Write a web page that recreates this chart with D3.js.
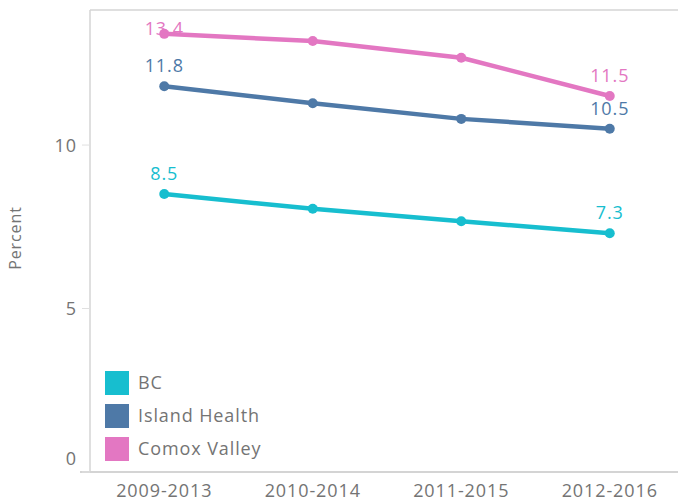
<!DOCTYPE html>
<html><head><meta charset="utf-8">
<script src="https://cdn.jsdelivr.net/npm/d3@7"></script>
<style>body{margin:0;background:#fff;}text{font-family:"Open Sans",sans-serif;letter-spacing:0.9px;}</style>
</head><body>
<svg id="c" width="678" height="503"></svg>
<script>
const periods = ["2009-2013","2010-2014","2011-2015","2012-2016"];
const seriesNames = ["BC","Island Health","Comox Valley"];
const bcValues = [8.5, 8.05, 7.67, 7.3];
const islandValues = [11.8, 11.28, 10.8, 10.5];
const comoxValues = [13.4, 13.18, 12.67, 11.5];
const yTicks = [0, 5, 10];
const colors = ["#17becf", "#4e79a7", "#e377c2"];
const series = [bcValues, islandValues, comoxValues];

const svg = d3.select("#c");
const L = 90, R = 684, T = 10, B = 472;
const x = d3.scaleBand().domain(periods).range([L, R]);
const y = d3.scaleLinear().domain([0, 14.13]).range([B, T]);
const cx = p => x(p) + x.bandwidth()/2;
const grey = "#747474";

// frame
svg.append("line").attr("x1",L).attr("x2",678).attr("y1",T).attr("y2",T).attr("stroke","#d4d4d4").attr("stroke-width",1.5);
svg.append("line").attr("x1",L).attr("x2",L).attr("y1",T).attr("y2",B).attr("stroke","#d4d4d4").attr("stroke-width",1.5);
svg.append("line").attr("x1",L-10).attr("x2",678).attr("y1",B).attr("y2",B).attr("stroke","#d4d4d4").attr("stroke-width",2);

// y ticks
yTicks.forEach(t => {
  svg.append("line").attr("x1",L-8).attr("x2",L).attr("y1",y(t)).attr("y2",y(t)).attr("stroke","#e0e0e0").attr("stroke-width",1);
  const ly = t === 0 ? y(t) - 12 : y(t) + 2;
  svg.append("text").attr("x",L-13).attr("y",ly).attr("text-anchor","end").attr("dominant-baseline","middle")
    .attr("font-size",18).attr("fill",grey).text(t);
});
svg.append("text").attr("transform","translate(17,238) rotate(-90)").attr("text-anchor","middle")
  .attr("dominant-baseline","middle").attr("font-size",16).attr("fill",grey).text("Percent");

// x labels
periods.forEach(p => {
  svg.append("text").attr("x",cx(p)).attr("y",497).attr("text-anchor","middle")
    .attr("font-size",18).attr("fill",grey).text(p);
});

// lines
const line = d3.line().x((d,i)=>cx(periods[i])).y(d=>y(d));
series.forEach((vals, si) => {
  svg.append("path").datum(vals).attr("d", line).attr("fill","none")
    .attr("stroke", colors[si]).attr("stroke-width",4.5).attr("stroke-linejoin","round");
  svg.selectAll(null).data(vals).enter().append("circle")
    .attr("cx",(d,i)=>cx(periods[i])).attr("cy",d=>y(d)).attr("r",5).attr("fill",colors[si]);
  [0, vals.length-1].forEach(i => {
    const py = y(vals[i]);
    svg.append("text").attr("x",cx(periods[i])).attr("y",Math.max(py-14, 35))
      .attr("text-anchor","middle").attr("font-size",18).attr("fill",colors[si]).text(vals[i].toFixed(1));
  });
});

// legend
seriesNames.forEach((n, i) => {
  const ly = 371 + i*33;
  svg.append("rect").attr("x",105).attr("y",ly).attr("width",24).attr("height",24).attr("fill",colors[i]);
  svg.append("text").attr("x",138).attr("y",ly+13).attr("dominant-baseline","middle")
    .attr("font-size",18).attr("fill",grey).text(n);
});
</script>
</body></html>
